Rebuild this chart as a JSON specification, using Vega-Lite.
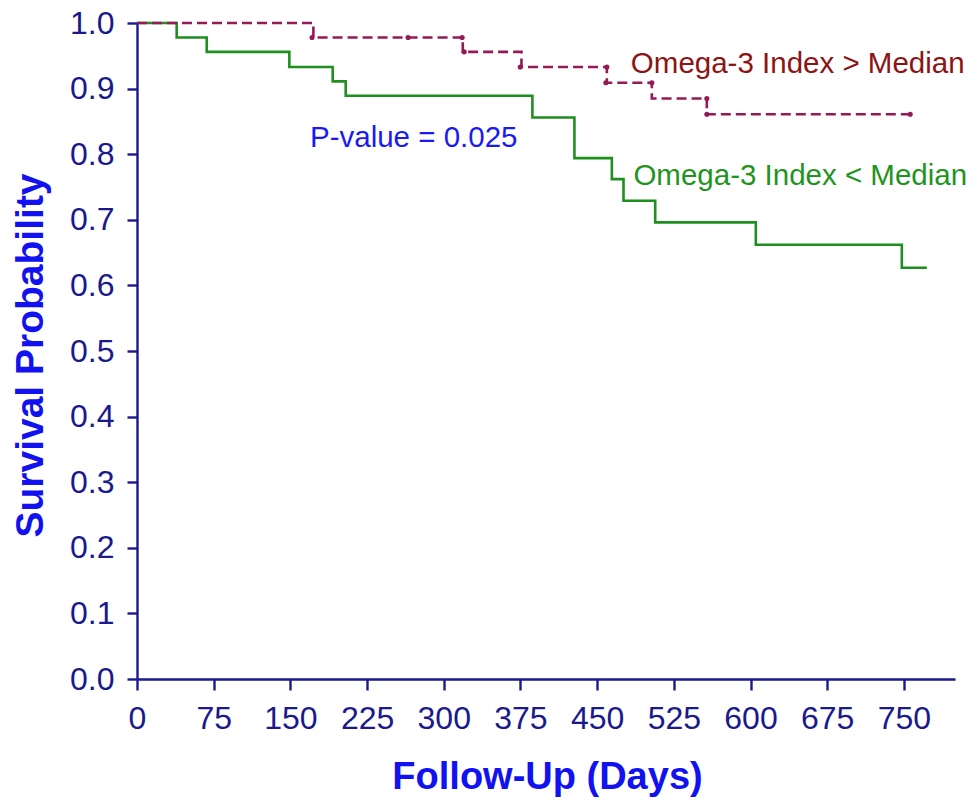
{
  "$schema": "https://vega.github.io/schema/vega-lite/v6.json",
  "width": 818,
  "height": 656,
  "autosize": {"type": "none"},
  "padding": {"left": 137, "top": 23, "right": 24, "bottom": 127},
  "background": "white",
  "config": {"view": {"stroke": null}},
  "datasets": {
    "low": [
      {"day": 0, "surv": 1.0},
      {"day": 38.8, "surv": 0.978},
      {"day": 68.2, "surv": 0.956},
      {"day": 149, "surv": 0.933},
      {"day": 191.4, "surv": 0.911},
      {"day": 204.1, "surv": 0.889},
      {"day": 386.7, "surv": 0.856},
      {"day": 427.8, "surv": 0.794},
      {"day": 464.4, "surv": 0.762},
      {"day": 475.8, "surv": 0.729},
      {"day": 506.8, "surv": 0.696},
      {"day": 605.2, "surv": 0.662},
      {"day": 748, "surv": 0.627},
      {"day": 772.5, "surv": 0.627}
    ],
    "high": [
      {"day": 0, "surv": 1.0},
      {"day": 172.5, "surv": 0.978},
      {"day": 318.6, "surv": 0.956},
      {"day": 376, "surv": 0.933},
      {"day": 459.5, "surv": 0.909},
      {"day": 503.5, "surv": 0.885},
      {"day": 557.3, "surv": 0.861},
      {"day": 756.2, "surv": 0.861}
    ],
    "censor": [
      {"day": 171.2, "surv": 0.978},
      {"day": 265.1, "surv": 0.978},
      {"day": 318, "surv": 0.978},
      {"day": 320, "surv": 0.956},
      {"day": 374.8, "surv": 0.933},
      {"day": 459.5, "surv": 0.933},
      {"day": 458.5, "surv": 0.909},
      {"day": 503.5, "surv": 0.909},
      {"day": 557.3, "surv": 0.885},
      {"day": 557.3, "surv": 0.861},
      {"day": 756.2, "surv": 0.861}
    ]
  },
  "layer": [
    {
      "data": {"name": "low"},
      "mark": {"type": "line", "interpolate": "step-after", "color": "#1f8f1f", "strokeWidth": 2.6},
      "encoding": {
        "x": {
          "field": "day", "type": "quantitative",
          "scale": {"domain": [0, 800], "nice": false, "zero": false},
          "axis": {
            "values": [0, 37.5, 75, 112.5, 150, 187.5, 225, 262.5, 300, 337.5, 375, 412.5, 450, 487.5, 525, 562.5, 600, 637.5, 675, 712.5, 750, 787.5],
            "labelExpr": "datum.value % 75 === 0 ? format(datum.value, 'd') : ''",
            "grid": false,
            "domainColor": "#1a1a8c", "domainWidth": 2.4,
            "tickColor": "#1a1a8c", "tickWidth": 2.4,
            "tickSize": {"condition": {"test": "datum.value % 75 === 0", "value": 11}, "value": 6},
            "labelColor": "#1a1a8c", "labelFont": "Liberation Sans", "labelFontSize": 32,
            "labelPadding": 13, "labelBaseline": "top", "labelFlush": false, "labelOverlap": false,
            "title": "Follow-Up (Days)",
            "titleFont": "Liberation Sans", "titleFontWeight": "bold", "titleFontSize": 38,
            "titleColor": "#1212f0", "titleBaseline": "alphabetic", "titleAlign": "center",
            "titleX": 410, "titleY": 109
          }
        },
        "y": {
          "field": "surv", "type": "quantitative",
          "scale": {"domain": [0, 1], "nice": false},
          "axis": {
            "values": [0, 0.05, 0.1, 0.15, 0.2, 0.25, 0.3, 0.35, 0.4, 0.45, 0.5, 0.55, 0.6, 0.65, 0.7, 0.75, 0.8, 0.85, 0.9, 0.95, 1.0],
            "labelExpr": "round(datum.value * 100) % 10 === 0 ? format(datum.value, '.1f') : ''",
            "grid": false,
            "domainColor": "#1a1a8c", "domainWidth": 2.4,
            "tickColor": "#1a1a8c", "tickWidth": 2.4,
            "tickSize": {"condition": {"test": "round(datum.value * 100) % 10 === 0", "value": 10}, "value": 5},
            "labelColor": "#1a1a8c", "labelFont": "Liberation Sans", "labelFontSize": 32,
            "labelPadding": 13, "labelFlush": false, "labelOverlap": false,
            "title": "Survival Probability",
            "titleFont": "Liberation Sans", "titleFontWeight": "bold", "titleFontSize": 39,
            "titleColor": "#1212f0", "titleBaseline": "alphabetic", "titleAlign": "center", "titleAngle": -90,
            "titleX": -95, "titleY": 332
          }
        }
      }
    },
    {
      "data": {"name": "high"},
      "mark": {"type": "line", "interpolate": "step-after", "color": "#961a58", "strokeWidth": 2.6, "strokeDash": [10, 5]},
      "encoding": {
        "x": {"field": "day", "type": "quantitative"},
        "y": {"field": "surv", "type": "quantitative"}
      }
    },
    {
      "data": {"name": "censor"},
      "mark": {"type": "point", "filled": true, "color": "#961a58", "size": 26, "opacity": 1},
      "encoding": {
        "x": {"field": "day", "type": "quantitative"},
        "y": {"field": "surv", "type": "quantitative"}
      }
    },
    {
      "data": {"values": [{"day": 169.2, "surv": 0.8114, "label": "P-value = 0.025"}]},
      "mark": {"type": "text", "align": "left", "baseline": "alphabetic", "font": "Liberation Sans", "fontSize": 29.5, "color": "#1a1af5"},
      "encoding": {
        "x": {"field": "day", "type": "quantitative"},
        "y": {"field": "surv", "type": "quantitative"},
        "text": {"field": "label"}
      }
    },
    {
      "data": {"values": [{"day": 483, "surv": 0.9233, "label": "Omega-3 Index > Median"}]},
      "mark": {"type": "text", "align": "left", "baseline": "alphabetic", "font": "Liberation Sans", "fontSize": 29.5, "color": "#8c1414"},
      "encoding": {
        "x": {"field": "day", "type": "quantitative"},
        "y": {"field": "surv", "type": "quantitative"},
        "text": {"field": "label"}
      }
    },
    {
      "data": {"values": [{"day": 485.5, "surv": 0.753, "label": "Omega-3 Index < Median"}]},
      "mark": {"type": "text", "align": "left", "baseline": "alphabetic", "font": "Liberation Sans", "fontSize": 29.5, "color": "#1f941f"},
      "encoding": {
        "x": {"field": "day", "type": "quantitative"},
        "y": {"field": "surv", "type": "quantitative"},
        "text": {"field": "label"}
      }
    }
  ]
}
